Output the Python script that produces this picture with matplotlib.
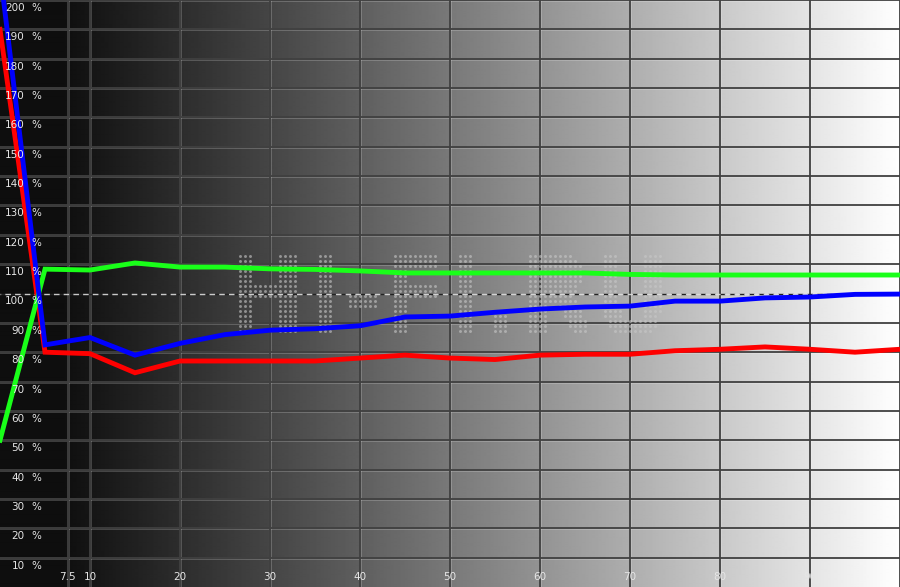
import numpy as np
import matplotlib
matplotlib.use("Agg")
import matplotlib.pyplot as plt
from matplotlib.textpath import TextPath
from matplotlib.font_manager import FontProperties
from matplotlib.transforms import Affine2D

# ---- data ----
x_levels = [0, 5, 10, 15, 20, 25, 30, 35, 40, 45, 50, 55, 60, 65, 70, 75, 80, 85, 90, 95, 100]
red_vals = [190, 80, 79.5, 73, 77, 77, 77, 77, 78, 79, 78, 77.5, 79, 79.3, 79.3, 80.5, 81, 81.8, 81, 80, 81]
green_vals = [50, 108.3, 108, 110.4, 109, 109, 108.4, 108.2, 107.7, 107, 107, 107, 107, 107, 106.5,
              106.3, 106.3, 106.3, 106.3, 106.3, 106.3]
blue_vals = [210, 82.5, 85, 79, 83, 86, 87.5, 88, 89, 92, 92.3, 93.6, 94.7, 95.4, 95.7, 97.4, 97.4,
             98.5, 98.8, 99.7, 99.8]

x_ticks = [7.5, 10, 20, 30, 40, 50, 60, 70, 80, 90]
x_tick_labels = ["7.5", "10", "20", "30", "40", "50", "60", "70", "80", "90"]
y_ticks = [10, 20, 30, 40, 50, 60, 70, 80, 90, 100, 110, 120, 130, 140, 150, 160, 170, 180, 190, 200]
y_tick_labels = [str(v) for v in y_ticks]
reference_level = 100
watermark = "HI-FI.RU"

W, H, DPI = 900, 587, 100
fig = plt.figure(figsize=(W / DPI, H / DPI), dpi=DPI)
ax = fig.add_axes([0, 0, 1, 1])
ax.set_xlim(0, 100)
ax.set_ylim(0, 200)
ax.set_axis_off()

px_x = 100 / W
px_y = 200 / H

# background gradient
t = np.linspace(0, 1, 900)
v = np.clip(np.maximum(14, 255 * t ** 1.08), 0, 255) / 255.0
grad = np.tile(v, (2, 1))
ax.imshow(grad, cmap="gray", vmin=0, vmax=1, extent=(0, 100, 0, 200), aspect="auto",
          interpolation="bilinear", zorder=0)

# grid lines (dark line with light highlight)
v_grid = x_ticks + [100]
h_grid = [y for y in y_ticks if y != reference_level]
for gx in v_grid:
    ax.axvline(gx + px_x, color="white", lw=0.7, alpha=0.2, zorder=1)
    ax.axvline(gx, color="#404040", lw=1.3, zorder=1.1)
for gy in h_grid:
    gy2 = min(gy, 200 - 0.3 * px_y)
    ax.axhline(gy2 - px_y, color="white", lw=0.7, alpha=0.2, zorder=1)
    ax.axhline(gy2, color="#404040", lw=1.3, zorder=1.1)

# reference dashed line
ax.axhline(reference_level, color="#222222", lw=1.0, ls=(0, (4, 3)), zorder=1.2)
ax.axhline(reference_level, color="#dddddd", lw=1.0, ls=(3.5, (4, 3)), zorder=1.2, alpha=0.9)

# dot-matrix watermark
fp = FontProperties(family="DejaVu Sans", weight="bold")
tp = TextPath((0, 0), watermark, size=100, prop=fp)
bb = tp.get_extents()
x0p, x1p, y0p, y1p = 235, 662, 251, 336  # pixel box
tx0, tx1 = x0p * px_x, x1p * px_x
ty1, ty0 = (H - y0p) * px_y, (H - y1p) * px_y
tr = Affine2D().translate(-bb.x0, -bb.y0).scale((tx1 - tx0) / bb.width, (ty1 - ty0) / bb.height).translate(tx0, ty0)
path = tr.transform_path(tp)
gxs = np.arange(tx0, tx1, 5 * px_x)
gys = np.arange(ty0, ty1, 5 * px_y)
GX, GY = np.meshgrid(gxs, gys)
pts = np.column_stack([GX.ravel(), GY.ravel()])
inside = path.contains_points(pts)
ax.scatter(pts[inside, 0], pts[inside, 1], s=4.5, color="#c8c8c8", alpha=0.6, linewidths=0, zorder=1.5)

# data lines
ax.plot(x_levels, red_vals, color="#ff0000", lw=3.5, zorder=3, solid_joinstyle="miter")
ax.plot(x_levels, green_vals, color="#19ff19", lw=3.5, zorder=3.1, solid_joinstyle="miter")
ax.plot(x_levels, blue_vals, color="#0000ff", lw=3.5, zorder=3.2, solid_joinstyle="miter")

# labels
for yv, lab in zip(y_ticks, y_tick_labels):
    yy = yv - 8 * px_y
    ax.text(24.5 * px_x, yy, lab, color="#e6e6e6", fontsize=7.5,
            ha="right", va="center", family="DejaVu Sans", zorder=4)
    ax.text(31.5 * px_x, yy, "%", color="#e6e6e6", fontsize=7.5,
            ha="left", va="center", family="DejaVu Sans", zorder=4)
for xv, lab in zip(x_ticks, x_tick_labels):
    ax.text(xv, 10 * px_y, lab, color="#e6e6e6", fontsize=7.5, ha="center", va="center",
            family="DejaVu Sans", zorder=4)

fig.savefig("out.png", dpi=DPI)
